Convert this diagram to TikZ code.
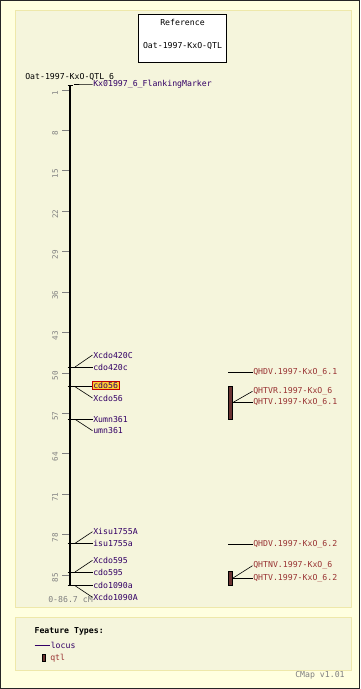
\documentclass[tikz,border=0pt]{standalone}
\usepackage{fontspec}
\setmonofont{DejaVu Sans Mono}
\usepackage{tikz}
\usetikzlibrary{positioning}

\definecolor{pagebg}{HTML}{FFFFE0}
\definecolor{panelbg}{HTML}{F5F5DC}
\definecolor{panelrim}{HTML}{EEE8AA}
\definecolor{locuscol}{HTML}{330066}
\definecolor{qtlcol}{HTML}{993333}
\definecolor{qtlfill}{HTML}{6B3333}
\definecolor{rulercol}{HTML}{808080}
\definecolor{hilite}{HTML}{FFCC33}

\tikzset{
  lbl/.style={font=\ttfamily\fontsize{8.2}{9}\selectfont, inner sep=0.6pt, anchor=west},
  locus/.style={lbl, text=locuscol},
  qtlname/.style={lbl, text=qtlcol},
  conn/.style={draw=black, line width=0.6pt},
  qtlbar/.style={draw=black, line width=0.5pt, fill=qtlfill, inner sep=0pt},
  panel/.style={fill=panelbg, draw=panelrim, line width=1pt},
}

\begin{document}
\begin{tikzpicture}[x=1pt, y=-1pt]
		\useasboundingbox (0,0) rectangle (360,689);
		\fill[pagebg] (0,0) rectangle (360,689);
		\draw[panel] (15,10) rectangle (351,607);
		\draw[panel] (15,617) rectangle (351,670.5);
		\draw[black!85, line width=1pt] (0.5,0.5) rectangle (359.5,688.5);
		
		% title box
		\node[draw=black, fill=white, line width=0.6pt, minimum width=88pt, minimum height=48pt] (refbox) at (182.5,38.2) {};
		\node[lbl, anchor=center] (reftitle) at (182.5,22.3) {Reference};
		\node[lbl, anchor=center] (refname) at (182.5,45.7) {Oat-1997-KxO-QTL};
		
		\node[lbl, text=black] (maptitle) at (24.5,77.3) {Oat-1997-KxO-QTL\_6};
		
		% chromosome axis
		\coordinate (axtop) at (70,85.5);
		\coordinate (axbot) at (70,585.7);
		\draw[line width=2.6pt] (axtop) -- (axbot);
		\draw[line width=1pt] (67.5,85.5) -- (73,85.5);
		
		% ruler
		\foreach \v in {1,8,...,85} {
			\pgfmathsetmacro\ty{84.2+5.774*\v}
			\draw[rulercol, line width=0.8pt] (62,\ty) -- (69,\ty);
			\node[font=\ttfamily\fontsize{7.6}{8}\selectfont, text=rulercol, rotate=90, inner sep=0pt] (rl\v) at (55.2,\ty+3) {\v};
		}
		\node[lbl, text=rulercol] (range) at (47.5,600) {0-86.7 cM};
		
		% loci on the axis
		\coordinate (loc0) at (74,84.5);
		\coordinate (loc1) at (75,367);
		\coordinate (loc2) at (75,386.7);
		\coordinate (loc3) at (75,419.3);
		\coordinate (loc4) at (75,543.3);
		\coordinate (loc5) at (75,572);
		\coordinate (loc6) at (75,585.7);
		\foreach \p in {1,...,6} {
			\draw[line width=1pt] ([xshift=-7.5pt]loc\p) -- (loc\p);
		}
		
		\node[locus] (flank) at (92.5,84.3) {Kx01997\_6\_FlankingMarker};
		\node[locus] (xcdo420C) at (92.5,355) {Xcdo420C};
		\node[locus] (cdo420c) at (92.5,367) {cdo420c};
		\node[locus, fill=hilite, draw=red!75!black, line width=0.8pt, inner sep=1.2pt] (cdo56) at (91.7,385.5) {cdo56};
		\node[locus] (xcdo56) at (92.5,398) {Xcdo56};
		\node[locus] (xumn361) at (92.5,419.3) {Xumn361};
		\node[locus] (umn361) at (92.5,430.7) {umn361};
		\node[locus] (xisu1755A) at (92.5,531.7) {Xisu1755A};
		\node[locus] (isu1755a) at (92.5,543.3) {isu1755a};
		\node[locus] (xcdo595) at (92.5,560.3) {Xcdo595};
		\node[locus] (cdo595) at (92.5,572) {cdo595};
		\node[locus] (cdo1090a) at (92.5,585.7) {cdo1090a};
		\node[locus] (xcdo1090A) at (92.5,597.3) {Xcdo1090A};
		
		\draw[conn] (loc0) -- (flank.west);
		\draw[conn] (loc1) -- (xcdo420C.west);
		\draw[conn] (loc1) -- (cdo420c.west);
		\draw[conn] (loc2) -- (cdo56.west |- loc2);
		\draw[conn] (loc2) -- (xcdo56.west);
		\draw[conn] (loc3) -- (xumn361.west);
		\draw[conn] (loc3) -- (umn361.west);
		\draw[conn] (loc4) -- (xisu1755A.west);
		\draw[conn] (loc4) -- (isu1755a.west);
		\draw[conn] (loc5) -- (xcdo595.west);
		\draw[conn] (loc5) -- (cdo595.west);
		\draw[conn] (loc6) -- (cdo1090a.west);
		\draw[conn] (loc6) -- (xcdo1090A.west);
		
		% qtl column
		\coordinate (qhdv1s) at (228,372.3);
		\node[qtlname] (qhdv1) at (252.5,372.3) {QHDV.1997-KxO\_6.1};
		\draw[conn] (qhdv1s) -- (qhdv1.west);
		
		\node[qtlbar, minimum width=4pt, minimum height=33.3pt] (bar1) at (230.3,402.7) {};
		\node[qtlname] (qhtvr) at (252.5,391.3) {QHTVR.1997-KxO\_6};
		\node[qtlname] (qhtv1) at (252.5,402.7) {QHTV.1997-KxO\_6.1};
		\draw[conn] (bar1.east) -- (qhtvr.west);
		\draw[conn] (bar1.east) -- (qhtv1.west);
		
		\coordinate (qhdv2s) at (228,544);
		\node[qtlname] (qhdv2) at (252.5,544) {QHDV.1997-KxO\_6.2};
		\draw[conn] (qhdv2s) -- (qhdv2.west);
		
		\node[qtlbar, minimum width=4pt, minimum height=13.3pt] (bar2) at (230.3,578.3) {};
		\node[qtlname] (qhtnv) at (252.5,565.7) {QHTNV.1997-KxO\_6};
		\node[qtlname] (qhtv2) at (252.5,578.3) {QHTV.1997-KxO\_6.2};
		\draw[conn] (bar2.east) -- (qhtnv.west);
		\draw[conn] (bar2.east) -- (qhtv2.west);
		
		% legend
		\node[lbl, text=black, font=\ttfamily\bfseries\fontsize{8.2}{9}\selectfont] (feat) at (33.8,631.7) {Feature Types:};
		\coordinate (lockey) at (34.7,645);
		\node[locus] (leglocus) at (50,645) {locus};
		\draw[locuscol, line width=0.9pt] (lockey) -- (leglocus.west);
		\node[qtlbar, minimum width=3pt, minimum height=7.4pt] (legbar) at (44.2,658) {};
		\node[qtlname] (legqtl) at (49.5,658) {qtl};
		
		\node[lbl, text=rulercol] (ver) at (294.5,675.7) {CMap v1.01};
	\end{tikzpicture}
\end{document}
